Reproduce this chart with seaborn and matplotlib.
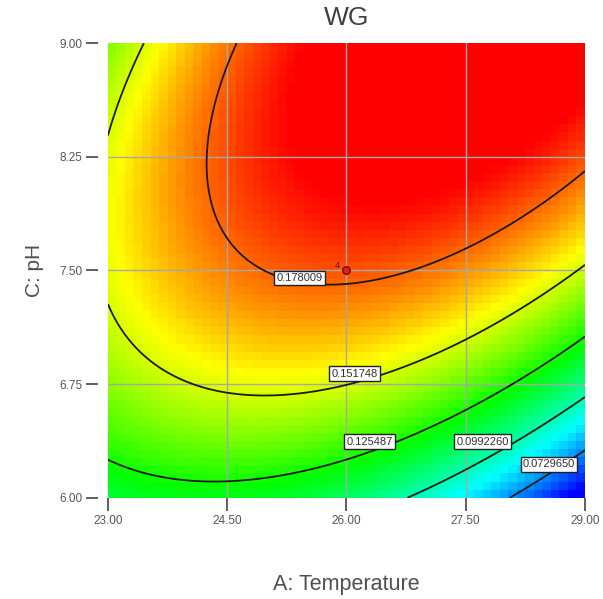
import numpy as np
import matplotlib
matplotlib.use("Agg")
import matplotlib.pyplot as plt
from matplotlib.colors import LinearSegmentedColormap
import seaborn as sns

# contour levels printed on the plot
levels = [0.0729650, 0.0992260, 0.125487, 0.151748, 0.178009]
level_text = ["0.0729650", "0.0992260", "0.125487", "0.151748", "0.178009"]

# points (temperature, pH)
l1_temp = [28.02, 28.50, 29.00]
l1_ph = [6.00, 6.16, 6.32]
l2_temp = [27.26, 27.50, 28.25, 29.00]
l2_ph = [6.00, 6.22, 6.43, 6.66]
l3_temp = [23.00, 23.74, 24.50, 25.42, 25.92, 27.50, 29.00]
l3_ph = [6.24, 6.15, 6.12, 6.20, 6.25, 6.58, 7.06]
l4_temp = [23.47, 23.24, 23.00, 23.00, 23.74, 24.53, 25.25, 25.98, 26.55, 27.50, 29.00]
l4_ph = [9.00, 8.72, 8.45, 7.17, 6.88, 6.68, 6.68, 6.76, 6.84, 7.08, 7.52]
l5_temp = [24.64, 24.37, 24.19, 24.28, 24.57, 24.87, 25.90, 26.96, 27.50, 28.22, 29.00]
l5_ph = [9.00, 8.59, 8.25, 7.93, 7.67, 7.52, 7.39, 7.49, 7.63, 7.85, 8.16]

# design point marker
point_temp = [26.0]
point_ph = [7.5]

x_ticks = [23.0, 24.5, 26.0, 27.5, 29.0]
y_ticks = [6.0, 6.75, 7.5, 8.25, 9.0]


def coded(t, p):
    return (np.asarray(t) - 26.0) / 3.0, (np.asarray(p) - 7.5) / 1.5


def design(a, c):
    return np.column_stack([np.ones_like(a), a, c, a * c, a ** 2, c ** 2])


def fit_surface():
    """Fit the quadratic response surface to the traced contour points."""
    temps = l1_temp + l2_temp + l3_temp + l4_temp + l5_temp
    phs = l1_ph + l2_ph + l3_ph + l4_ph + l5_ph
    vals = ([levels[0]] * len(l1_temp) + [levels[1]] * len(l2_temp)
            + [levels[2]] * len(l3_temp) + [levels[3]] * len(l4_temp)
            + [levels[4]] * len(l5_temp))
    a, c = coded(temps, phs)
    coef, *_ = np.linalg.lstsq(design(a, c), np.array(vals), rcond=None)
    return coef


def predict(coef, t, p):
    a, c = coded(t, p)
    shape = a.shape
    return (design(a.ravel(), c.ravel()) @ coef).reshape(shape)


def main():
    sns.set_theme(style="white")
    plt.rcParams['font.family'] = ['Liberation Sans', 'DejaVu Sans']

    coef = fit_surface()
    cmap = LinearSegmentedColormap.from_list(
        "de", ["#0000ff", "#00ffff", "#00ff00", "#ffff00", "#ff0000"])

    fig = plt.figure(figsize=(6.03, 5.99), dpi=100)
    ax = fig.add_axes([0.179, 0.169, 0.791, 0.759])

    # blocky colour map like the original
    xe = np.linspace(23, 29, 57)
    ye = np.linspace(6, 9, 57)
    xc, yc = np.meshgrid((xe[:-1] + xe[1:]) / 2, (ye[:-1] + ye[1:]) / 2)
    zc = predict(coef, xc, yc)
    ax.pcolormesh(xe, ye, zc, cmap=cmap, vmin=0.054, vmax=0.192,
                  shading="flat", zorder=1)

    for v in x_ticks[1:-1]:
        ax.axvline(v, color="#a8a8a8", lw=1, zorder=2)
    for v in y_ticks[1:-1]:
        ax.axhline(v, color="#a8a8a8", lw=1, zorder=2)

    xf, yf = np.meshgrid(np.linspace(23, 29, 300), np.linspace(6, 9, 300))
    zf = predict(coef, xf, yf)
    cs = ax.contour(xf, yf, zf, levels=levels, colors="#1a1a1a",
                    linewidths=1.3, zorder=3)
    fmt = dict(zip(cs.levels, level_text))
    # label box centres (temperature, pH), one per level
    label_pos = [(28.55, 6.22), (27.71, 6.37), (26.29, 6.37),
                 (26.1, 6.82), (25.41, 7.45)]
    texts = ax.clabel(cs, fmt=fmt, fontsize=8, inline=False,
                      manual=label_pos)
    for t, pos in zip(texts, label_pos):
        t.set_position(pos)
        t.set_rotation(0)
        t.set_color("#303030")
        t.set_zorder(4)
        t.set_bbox(dict(facecolor="white", edgecolor="#202020",
                        boxstyle="square,pad=0.2", lw=1))

    ax.scatter(point_temp, point_ph, s=30, color="#e02010",
               edgecolor="#600000", linewidth=0.8, zorder=5)
    ax.annotate("4", (point_temp[0], point_ph[0]), xytext=(-8, 2),
                textcoords="offset points", fontsize=6.5, color="#601010",
                zorder=5)

    ax.set_xlim(23, 29)
    ax.set_ylim(6, 9)
    ax.set_xticks(x_ticks)
    ax.set_yticks(y_ticks)
    ax.set_xticklabels([f"{v:.2f}" for v in x_ticks])
    ax.set_yticklabels([f"{v:.2f}" for v in y_ticks])
    ax.tick_params(axis="both", which="major", labelsize=8.5,
                   labelcolor="#555555", color="#444444", length=9,
                   width=1.2, direction="out", bottom=True, left=True)
    ax.tick_params(axis="y", length=8.5, pad=3)
    for s in ax.spines.values():
        s.set_visible(False)
    ax.spines["left"].set_position(("outward", 7))

    ax.set_title("WG", fontsize=19, color="#404040", pad=13)
    ax.set_xlabel("A: Temperature", fontsize=15.5, color="#505050",
                  labelpad=34)
    ax.set_ylabel("C: pH", fontsize=15, color="#505050", labelpad=11)

    fig.savefig("out.png", dpi=100)


if __name__ == "__main__":
    main()
